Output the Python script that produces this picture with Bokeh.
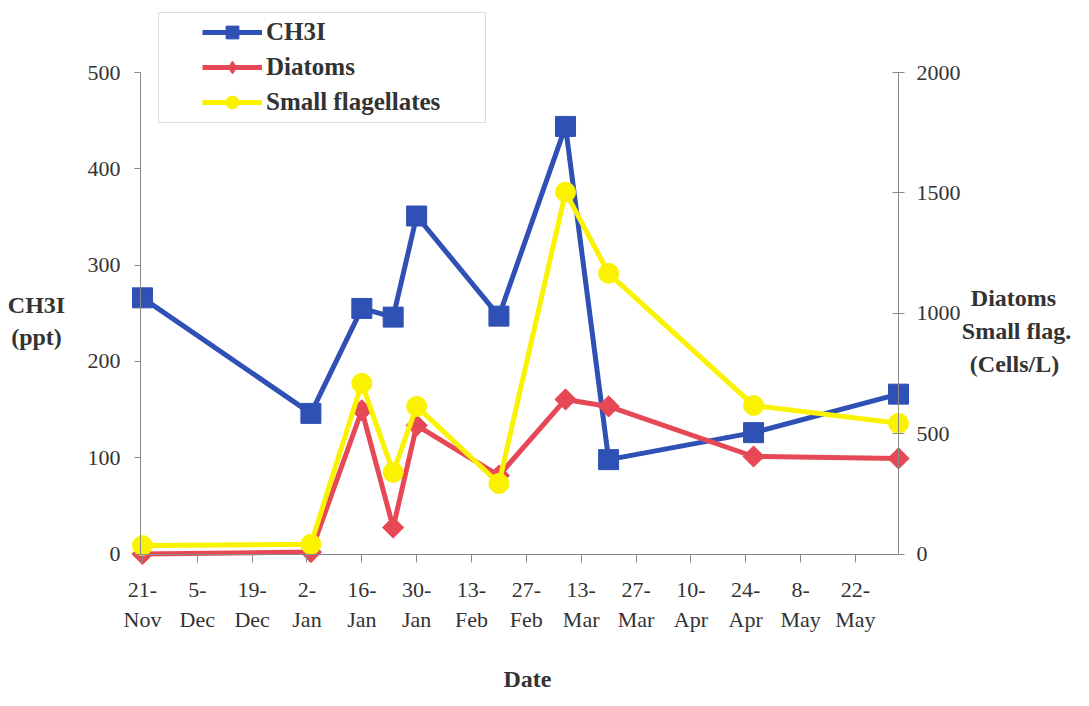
import pandas as pd
from bokeh.plotting import figure
from bokeh.models import (Range1d, LinearAxis, FixedTicker, Label, Legend,
                          LegendItem, BoxAnnotation)
from bokeh.embed import file_html
from bokeh.resources import INLINE

# ---- data ----
dates = ["1997-11-21", "1998-01-03", "1998-01-16", "1998-01-24", "1998-01-30",
         "1998-02-20", "1998-03-09", "1998-03-20", "1998-04-26", "1998-06-02"]
ch3i = [266, 146, 255, 246, 351, 247, 444, 98, 126, 166]
diatoms = [0, 8, 597, 110, 534, 326, 642, 613, 405, 397]
small_flag = [35, 40, 709, 339, 613, 293, 1503, 1166, 617, 543]

tick_dates = ["1997-11-21", "1997-12-05", "1997-12-19", "1998-01-02", "1998-01-16",
              "1998-01-30", "1998-02-13", "1998-02-27", "1998-03-13", "1998-03-27",
              "1998-04-10", "1998-04-24", "1998-05-08", "1998-05-22"]
tick_labels = ["21-\nNov", "5-\nDec", "19-\nDec", "2-\nJan", "16-\nJan", "30-\nJan",
               "13-\nFeb", "27-\nFeb", "13-\nMar", "27-\nMar", "10-\nApr", "24-\nApr",
               "8-\nMay", "22-\nMay"]
left_ticks = [0, 100, 200, 300, 400, 500]
right_ticks = [0, 500, 1000, 1500, 2000]

start = pd.Timestamp(dates[0])
days = [(pd.Timestamp(d) - start).days for d in dates]
tick_days = [(pd.Timestamp(d) - start).days for d in tick_dates]

BLUE = "#2f50b4"
RED = "#e64856"
YELLOW = "#fbf200"
TXT = "#333333"
AX = "#8a8a8a"
FONT = "Liberation Serif"

W, H = 1073, 690
# plot area: axes at x=140..898 px, y=72 (top value) .. 553.5 (zero)
X0, X1 = -0.5, 193.0
ppd = (898 - 140) / (X1 - X0)
xs, xe = X0 - 140 / ppd, X1 + (W - 898) / ppd
YMAX = 500
ppu = (553.5 - 72) / YMAX
ys, ye = -(H - 553.5) / ppu, YMAX + 72 / ppu
RMAX = 2000
k = RMAX / YMAX

p = figure(width=W, height=H, output_backend="svg", toolbar_location=None,
           title=None,
           x_range=Range1d(xs, xe), y_range=Range1d(ys, ye),
           min_border_left=0, min_border_right=0,
           min_border_top=0, min_border_bottom=0)
p.outline_line_color = None
p.xgrid.visible = False
p.ygrid.visible = False
p.background_fill_color = "white"
p.border_fill_color = "white"

# x axis
xa = p.xaxis[0]
xa.fixed_location = 0
xa.bounds = (X0, X1)
xa.ticker = FixedTicker(ticks=tick_days)
xa.major_label_overrides = {d: l for d, l in zip(tick_days, tick_labels)}
xa.minor_tick_line_color = None
xa.major_tick_out = 8
xa.major_tick_in = 0
xa.axis_line_color = AX
xa.major_tick_line_color = AX
xa.major_label_text_font = FONT
xa.major_label_text_font_size = "22px"
xa.major_label_text_color = TXT
xa.major_label_standoff = 15

# left axis
ya = p.yaxis[0]
ya.fixed_location = X0
ya.bounds = (0, YMAX)
ya.ticker = FixedTicker(ticks=left_ticks)
ya.minor_tick_line_color = None
ya.major_tick_out = 6
ya.major_tick_in = 0
ya.axis_line_color = AX
ya.major_tick_line_color = AX
ya.major_label_text_font = FONT
ya.major_label_text_font_size = "22px"
ya.major_label_text_color = TXT
ya.major_label_standoff = 14

# right axis
p.extra_y_ranges = {"cells": Range1d(ys * k, ye * k)}
ra = LinearAxis(y_range_name="cells", ticker=FixedTicker(ticks=right_ticks))
ra.fixed_location = X1
ra.bounds = (0, RMAX)
ra.minor_tick_line_color = None
ra.major_tick_out = 6
ra.major_tick_in = 6
ra.axis_line_color = AX
ra.major_tick_line_color = AX
ra.major_label_text_font = FONT
ra.major_label_text_font_size = "22px"
ra.major_label_text_color = TXT
ra.major_label_standoff = 12
p.add_layout(ra, "right")

# series
r1l = p.line(days, ch3i, line_color=BLUE, line_width=5)
r1m = p.scatter(days, ch3i, marker="square", size=20, color=BLUE)
r2l = p.line(days, diatoms, y_range_name="cells", line_color=RED, line_width=5)
r2m = p.scatter(days, diatoms, y_range_name="cells", marker="square", angle=0.785398,
                size=15, color=RED)
r3l = p.line(days, small_flag, y_range_name="cells", line_color=YELLOW, line_width=5)
r3m = p.scatter(days, small_flag, y_range_name="cells", marker="circle", size=20,
                color=YELLOW)
# legend symbol for diatoms (narrow diamond, as in the reference legend)
r2k = p.scatter(days, diatoms, y_range_name="cells", marker="diamond", size=20,
                color=RED, visible=False)

# legend
legend = Legend(items=[LegendItem(label="CH3I", renderers=[r1l, r1m]),
                       LegendItem(label="Diatoms", renderers=[r2l, r2k]),
                       LegendItem(label="Small flagellates", renderers=[r3l, r3m])],
                location=(202, H - 118), padding=0, margin=0,
                border_line_alpha=0, background_fill_alpha=0,
                label_text_font=FONT, label_text_font_style="bold",
                label_text_font_size="25px", label_text_color=TXT,
                glyph_width=60, glyph_height=32, label_height=32,
                spacing=3, label_standoff=4)
p.add_layout(legend)

box = BoxAnnotation(left=158, right=485, top=H - 12, bottom=H - 122,
                    left_units="screen", right_units="screen",
                    top_units="screen", bottom_units="screen",
                    fill_alpha=0, line_color=AX, line_width=1)
p.add_layout(box)

def lab(text, x, y):
    p.add_layout(Label(x=x, y=H - y, x_units="screen", y_units="screen", text=text,
                       text_align="center", text_baseline="middle",
                       text_font=FONT, text_font_style="bold",
                       text_font_size="24px", text_color=TXT))

lab("CH3I", 36, 304)
lab("(ppt)", 36, 336)
lab("Diatoms", 1013, 297)
lab("Small flag.", 1016, 330)
lab("(Cells/L)", 1014, 363)
lab("Date", 527, 678)

open("out.html", "w").write(file_html(p, INLINE))
